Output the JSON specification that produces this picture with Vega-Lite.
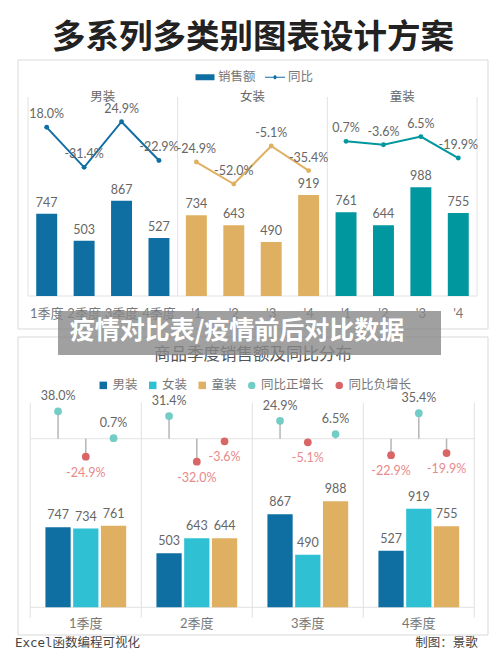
{
  "$schema": "https://vega.github.io/schema/vega-lite/v6.json",
  "width": 500,
  "height": 666,
  "autosize": {"type": "fit", "contains": "padding"},
  "padding": 0,
  "background": "white",
  "config": {
    "view": {"stroke": null},
    "text": {"font": "Lato, Noto Sans CJK SC", "fontSize": 12.5, "color": "#666666"},
    "axis": {"disable": true}
  },
  "datasets": {
    "top": [
      {"key": "男1", "panel": "男装", "label": "1季度", "sales": 747, "yoy": 18.0, "pct": "18.0%"},
      {"key": "男2", "panel": "男装", "label": "2季度", "sales": 503, "yoy": -31.4, "pct": "-31.4%"},
      {"key": "男3", "panel": "男装", "label": "3季度", "sales": 867, "yoy": 24.9, "pct": "24.9%"},
      {"key": "男4", "panel": "男装", "label": "4季度", "sales": 527, "yoy": -22.9, "pct": "-22.9%"},
      {"key": "女1", "panel": "女装", "label": "'1", "sales": 734, "yoy": -24.9, "pct": "-24.9%"},
      {"key": "女2", "panel": "女装", "label": "'2", "sales": 643, "yoy": -52.0, "pct": "-52.0%"},
      {"key": "女3", "panel": "女装", "label": "'3", "sales": 490, "yoy": -5.1, "pct": "-5.1%"},
      {"key": "女4", "panel": "女装", "label": "'4", "sales": 919, "yoy": -35.4, "pct": "-35.4%"},
      {"key": "童1", "panel": "童装", "label": "'1", "sales": 761, "yoy": 0.7, "pct": "0.7%"},
      {"key": "童2", "panel": "童装", "label": "'2", "sales": 644, "yoy": -3.6, "pct": "-3.6%"},
      {"key": "童3", "panel": "童装", "label": "'3", "sales": 988, "yoy": 6.5, "pct": "6.5%"},
      {"key": "童4", "panel": "童装", "label": "'4", "sales": 755, "yoy": -19.9, "pct": "-19.9%"}
    ],
    "bottom": [
      {"quarter": "1季度", "series": "男装", "sales": 747, "yoy": 38.0, "pct": "38.0%"},
      {"quarter": "1季度", "series": "女装", "sales": 734, "yoy": -24.9, "pct": "-24.9%"},
      {"quarter": "1季度", "series": "童装", "sales": 761, "yoy": 0.7, "pct": "0.7%"},
      {"quarter": "2季度", "series": "男装", "sales": 503, "yoy": 31.4, "pct": "31.4%"},
      {"quarter": "2季度", "series": "女装", "sales": 643, "yoy": -32.0, "pct": "-32.0%"},
      {"quarter": "2季度", "series": "童装", "sales": 644, "yoy": -3.6, "pct": "-3.6%"},
      {"quarter": "3季度", "series": "男装", "sales": 867, "yoy": 24.9, "pct": "24.9%"},
      {"quarter": "3季度", "series": "女装", "sales": 490, "yoy": -5.1, "pct": "-5.1%"},
      {"quarter": "3季度", "series": "童装", "sales": 988, "yoy": 6.5, "pct": "6.5%"},
      {"quarter": "4季度", "series": "男装", "sales": 527, "yoy": -22.9, "pct": "-22.9%"},
      {"quarter": "4季度", "series": "女装", "sales": 919, "yoy": 35.4, "pct": "35.4%"},
      {"quarter": "4季度", "series": "童装", "sales": 755, "yoy": -19.9, "pct": "-19.9%"}
    ]
  },
  "resolve": {"scale": {"x": "independent", "y": "independent", "color": "independent", "shape": "independent", "xOffset": "independent"}},
  "layer": [
    {
      "data": {"values": [{"box": "a"}]},
      "mark": {"type": "rect", "filled": false, "stroke": "#d9d9d9", "strokeWidth": 1},
      "encoding": {
        "x": {"field": "box", "type": "nominal", "axis": null, "scale": {"range": [18, 488], "padding": 0}},
        "y": {"field": "box", "type": "nominal", "axis": null, "scale": {"range": [60, 329], "padding": 0}}
      }
    },
    {
      "data": {"values": [{"box": "b"}]},
      "mark": {"type": "rect", "filled": false, "stroke": "#d9d9d9", "strokeWidth": 1},
      "encoding": {
        "x": {"field": "box", "type": "nominal", "axis": null, "scale": {"range": [18, 488], "padding": 0}},
        "y": {"field": "box", "type": "nominal", "axis": null, "scale": {"range": [337, 635], "padding": 0}}
      }
    },
    {
      "data": {"values": [{"t": "多系列多类别图表设计方案"}]},
      "mark": {"type": "text", "font": "Noto Sans CJK SC", "fontWeight": 700, "fontSize": 33.5, "color": "#222222", "baseline": "middle"},
      "encoding": {
        "text": {"field": "t"},
        "x": {"field": "t", "type": "nominal", "axis": null, "scale": {"range": [53, 453], "padding": 0}},
        "y": {"field": "t", "type": "nominal", "axis": null, "scale": {"range": [20, 56], "padding": 0}}
      }
    },
    {
      "data": {"values": [{"t": "商品季度销售额及同比分布"}]},
      "mark": {"type": "text", "font": "Noto Sans CJK SC", "fontSize": 16.5, "color": "#555555", "baseline": "middle"},
      "encoding": {
        "text": {"field": "t"},
        "x": {"field": "t", "type": "nominal", "axis": null, "scale": {"range": [154, 352], "padding": 0}},
        "y": {"field": "t", "type": "nominal", "axis": null, "scale": {"range": [345, 365], "padding": 0}}
      }
    },
    {
      "data": {"values": [{"t": "Excel函数编程可视化"}, {"t": "制图：景歌"}]},
      "mark": {"type": "text", "font": "DejaVu Sans Mono, Noto Sans CJK SC", "fontSize": 12.5, "color": "#444444", "baseline": "middle"},
      "encoding": {
        "text": {"field": "t"},
        "x": {"field": "t", "type": "nominal", "sort": null, "axis": null, "scale": {"type": "point", "range": [77.5, 446.5], "padding": 0}},
        "y": {"datum": 0, "type": "quantitative", "axis": null, "scale": {"domain": [0, 1], "range": [643, 653], "nice": false}}
      }
    },
    {
      "data": {"values": [{"series": "销售额"}, {"series": "同比"}]},
      "transform": [{"filter": "false"}],
      "mark": {"type": "point", "filled": true, "opacity": 1},
      "encoding": {
        "color": {
          "field": "series", "type": "nominal", "sort": null,
          "scale": {"domain": ["销售额", "同比"], "range": ["#0f6fa3", "#0f6fa3"]},
          "legend": {"title": null, "orient": "none", "legendX": 195, "legendY": 67, "direction": "horizontal", "symbolOpacity": 1, "symbolSize": 400, "symbolStrokeWidth": 0, "labelFont": "Noto Sans CJK SC", "labelFontSize": 12.5, "labelColor": "#777777", "labelOffset": 3, "columnPadding": 9, "padding": 0}
        },
        "shape": {
          "field": "series", "type": "nominal", "sort": null,
          "scale": {"domain": ["销售额", "同比"], "range": ["M-0.95,-0.3H0.95V0.3H-0.95Z", "M-1,-0.05H-0.15A0.15,0.15 0 0 1 0.15,-0.05H1V0.05H0.15A0.15,0.15 0 0 1 -0.15,0.05H-1Z"]}
        }
      }
    },
    {
      "data": {"values": [{"edge": 0}, {"edge": 1}, {"edge": 2}, {"edge": 3}]},
      "mark": {"type": "rule", "color": "#e2e2e2", "strokeWidth": 1},
      "encoding": {
        "x": {"field": "edge", "type": "quantitative", "axis": null, "scale": {"domain": [0, 3], "range": [28, 477], "nice": false}},
        "y": {"datum": 0, "type": "quantitative", "axis": null, "scale": {"domain": [0, 1000], "range": [296, 186], "nice": false}},
        "y2": {"datum": 1809}
      }
    },
    {
      "data": {"values": [{"a": 0, "b": 3}]},
      "mark": {"type": "rule", "color": "#e2e2e2", "strokeWidth": 1},
      "encoding": {
        "x": {"field": "a", "type": "quantitative", "axis": null, "scale": {"domain": [0, 3], "range": [28, 477], "nice": false}},
        "x2": {"field": "b"},
        "y": {"datum": 0, "type": "quantitative", "axis": null, "scale": {"domain": [0, 1000], "range": [296, 186], "nice": false}}
      }
    },
    {
      "data": {"values": [{"panel": "男装"}, {"panel": "女装"}, {"panel": "童装"}]},
      "mark": {"type": "text", "baseline": "middle", "font": "Noto Sans CJK SC", "fontSize": 12.5, "color": "#666666"},
      "encoding": {
        "text": {"field": "panel"},
        "x": {"field": "panel", "type": "nominal", "sort": null, "axis": null, "scale": {"type": "band", "range": [28, 477], "padding": 0}},
        "y": {"datum": 1809, "type": "quantitative", "axis": null, "scale": {"domain": [0, 1000], "range": [296, 186], "nice": false}}
      }
    },
    {
      "data": {"name": "top"},
      "encoding": {
        "x": {"field": "key", "type": "nominal", "sort": null, "axis": null, "scale": {"type": "band", "range": [28, 477], "paddingInner": 0.44, "paddingOuter": 0.22}},
        "y": {"field": "sales", "type": "quantitative", "stack": null, "axis": null, "scale": {"domain": [0, 1000], "range": [296, 186], "nice": false}}
      },
      "layer": [
        {
          "mark": {"type": "bar"},
          "encoding": {
            "color": {"field": "panel", "type": "nominal", "legend": null, "scale": {"domain": ["男装", "女装", "童装"], "range": ["#0f6fa3", "#e0b062", "#00979f"]}}
          }
        },
        {
          "mark": {"type": "text", "baseline": "middle", "dy": -11},
          "encoding": {"text": {"field": "sales"}}
        },
        {
          "mark": {"type": "text", "baseline": "middle", "font": "Lato, Noto Sans CJK SC", "fontSize": 13, "color": "#777777"},
          "encoding": {
            "text": {"field": "label"},
            "y": {"datum": -164, "type": "quantitative"}
          }
        }
      ]
    },
    {
      "data": {"name": "top"},
      "encoding": {
        "x": {"field": "key", "type": "nominal", "sort": null, "axis": null, "scale": {"type": "band", "range": [28, 477], "paddingInner": 0.44, "paddingOuter": 0.22}},
        "y": {"field": "yoy", "type": "quantitative", "axis": null, "scale": {"domain": [-60, 40], "range": [190.5, 109.5], "nice": false, "zero": false}}
      },
      "layer": [
        {
          "mark": {"type": "line", "strokeWidth": 2},
          "encoding": {
            "color": {"field": "panel", "type": "nominal", "legend": null, "scale": {"domain": ["男装", "女装", "童装"], "range": ["#0f6fa3", "#e0b062", "#00979f"]}}
          }
        },
        {
          "mark": {"type": "point", "filled": true, "size": 24, "opacity": 1},
          "encoding": {
            "color": {"field": "panel", "type": "nominal", "legend": null}
          }
        },
        {
          "mark": {"type": "text", "baseline": "middle", "dy": -13},
          "encoding": {"text": {"field": "pct"}}
        }
      ]
    },
    {
      "data": {"values": [{"series": "男装"}, {"series": "女装"}, {"series": "童装"}, {"series": "同比正增长"}, {"series": "同比负增长"}]},
      "transform": [{"filter": "false"}],
      "mark": {"type": "point", "filled": true, "opacity": 1},
      "encoding": {
        "color": {
          "field": "series", "type": "nominal", "sort": null,
          "scale": {"domain": ["男装", "女装", "童装", "同比正增长", "同比负增长"], "range": ["#0f6fa3", "#2fc0d4", "#e0b062", "#72cdc6", "#d96666"]},
          "legend": {"title": null, "orient": "none", "legendX": 97, "legendY": 379, "direction": "horizontal", "symbolOpacity": 1, "symbolSize": 56, "symbolStrokeWidth": 0, "labelFont": "Noto Sans CJK SC", "labelFontSize": 12.5, "labelColor": "#777777", "labelOffset": 3, "columnPadding": 8.5, "padding": 0}
        },
        "shape": {
          "field": "series", "type": "nominal", "sort": null,
          "scale": {"domain": ["男装", "女装", "童装", "同比正增长", "同比负增长"], "range": ["square", "square", "square", "circle", "circle"]}
        }
      }
    },
    {
      "data": {"values": [{"edge": 0}, {"edge": 1}, {"edge": 2}, {"edge": 3}, {"edge": 4}]},
      "mark": {"type": "rule", "color": "#e2e2e2", "strokeWidth": 1},
      "encoding": {
        "x": {"field": "edge", "type": "quantitative", "axis": null, "scale": {"domain": [0, 4], "range": [30.3, 474.3], "nice": false}},
        "y": {"datum": -97, "type": "quantitative", "axis": null, "scale": {"domain": [0, 1000], "range": [607.3, 500], "nice": false}},
        "y2": {"datum": 1906}
      }
    },
    {
      "data": {"values": [{"a": 0, "b": 4, "line": 0}, {"a": 0, "b": 4, "line": 1571}]},
      "mark": {"type": "rule", "color": "#e2e2e2", "strokeWidth": 1},
      "encoding": {
        "x": {"field": "a", "type": "quantitative", "axis": null, "scale": {"domain": [0, 4], "range": [30.3, 474.3], "nice": false}},
        "x2": {"field": "b"},
        "y": {"field": "line", "type": "quantitative", "axis": null, "scale": {"domain": [0, 1000], "range": [607.3, 500], "nice": false}}
      }
    },
    {
      "data": {"name": "bottom"},
      "encoding": {
        "x": {"field": "quarter", "type": "nominal", "axis": null, "scale": {"type": "band", "range": [30.3, 474.3], "padding": 0}},
        "xOffset": {"field": "series", "type": "nominal", "sort": null, "scale": {"domain": ["男装", "女装", "童装"], "paddingInner": 0.09, "paddingOuter": 0.545}},
        "y": {"field": "sales", "type": "quantitative", "stack": null, "axis": null, "scale": {"domain": [0, 1000], "range": [607.3, 500], "nice": false}}
      },
      "layer": [
        {
          "mark": {"type": "bar"},
          "encoding": {
            "color": {"field": "series", "type": "nominal", "sort": null, "legend": null, "scale": {"domain": ["男装", "女装", "童装"], "range": ["#0f6fa3", "#2fc0d4", "#e0b062"]}}
          }
        },
        {
          "mark": {"type": "text", "baseline": "middle", "dy": -12},
          "encoding": {"text": {"field": "sales"}}
        }
      ]
    },
    {
      "data": {"name": "bottom"},
      "encoding": {
        "x": {"field": "quarter", "type": "nominal", "axis": null, "scale": {"type": "band", "range": [30.3, 474.3], "padding": 0}},
        "xOffset": {"field": "series", "type": "nominal", "sort": null, "scale": {"domain": ["男装", "女装", "童装"], "paddingInner": 0.09, "paddingOuter": 0.545}},
        "y": {"field": "yoy", "type": "quantitative", "axis": null, "scale": {"domain": [-50, 50], "range": [474.7, 402.7], "nice": false}}
      },
      "layer": [
        {
          "mark": {"type": "rule", "color": "#b5b5b5", "strokeWidth": 1.5},
          "encoding": {"y2": {"datum": 0}}
        },
        {
          "transform": [{"filter": "datum.yoy >= 0"}],
          "layer": [
            {"mark": {"type": "point", "filled": true, "size": 60, "opacity": 1, "color": "#72cdc6"}},
            {
              "mark": {"type": "text", "baseline": "middle", "dy": -15},
              "encoding": {"text": {"field": "pct"}}
            }
          ]
        },
        {
          "transform": [{"filter": "datum.yoy < 0"}],
          "layer": [
            {"mark": {"type": "point", "filled": true, "size": 60, "opacity": 1, "color": "#d96666"}},
            {
              "mark": {"type": "text", "baseline": "middle", "dy": 16, "color": "#e88a8a"},
              "encoding": {"text": {"field": "pct"}}
            }
          ]
        }
      ]
    },
    {
      "data": {"values": [{"quarter": "1季度"}, {"quarter": "2季度"}, {"quarter": "3季度"}, {"quarter": "4季度"}]},
      "mark": {"type": "text", "baseline": "middle", "fontSize": 13, "color": "#777777"},
      "encoding": {
        "text": {"field": "quarter"},
        "x": {"field": "quarter", "type": "nominal", "axis": null, "scale": {"type": "band", "range": [30.3, 474.3], "padding": 0}},
        "y": {"datum": -154, "type": "quantitative", "axis": null, "scale": {"domain": [0, 1000], "range": [607.3, 500], "nice": false}}
      }
    },
    {
      "data": {"values": [{"t": "疫情对比表/疫情前后对比数据"}]},
      "encoding": {
        "x": {"field": "t", "type": "nominal", "axis": null, "scale": {"range": [58, 441], "padding": 0}},
        "y": {"field": "t", "type": "nominal", "axis": null, "scale": {"range": [311, 355], "padding": 0}}
      },
      "layer": [
        {"mark": {"type": "bar", "color": "#888888", "opacity": 0.8}},
        {
          "mark": {"type": "text", "font": "Noto Sans CJK SC", "fontWeight": 700, "fontSize": 25, "color": "white", "baseline": "middle", "dx": -12.5, "dy": -2},
          "encoding": {"text": {"field": "t"}}
        }
      ]
    }
  ]
}
